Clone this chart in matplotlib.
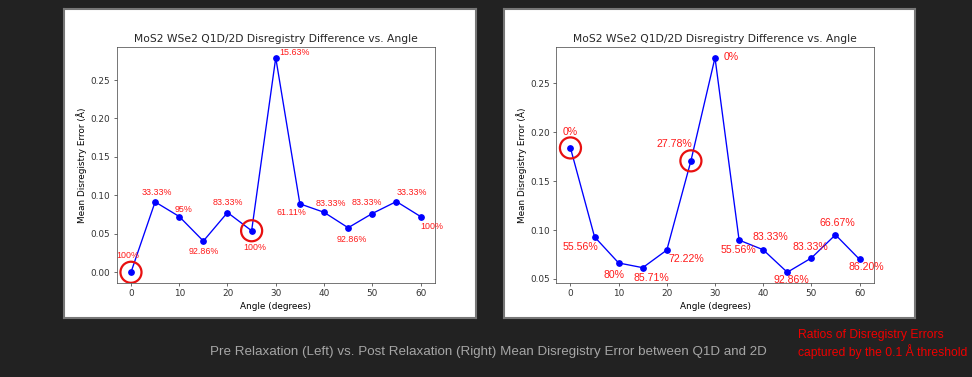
import numpy as np
import matplotlib.pyplot as plt

# angles and mean disregistry error
angles = [0, 5, 10, 15, 20, 25, 30, 35, 40, 45, 50, 55, 60]
pre_err = [0.000, 0.0915, 0.0725, 0.0406, 0.0777, 0.054, 0.279,
           0.089, 0.078, 0.0579, 0.0764, 0.092, 0.0725]
post_err = [0.1839, 0.093, 0.0663, 0.0615, 0.0795, 0.1707, 0.2761,
            0.0897, 0.0798, 0.0568, 0.0714, 0.0951, 0.070]

pre_labels = ["100%", "33.33%", "95%", "92.86%", "83.33%", "100%", "15.63%",
              "61.11%", "83.33%", "92.86%", "83.33%", "33.33%", "100%"]
post_labels = ["0%", "55.56%", "80%", "85.71%", "72.22%", "27.78%", "0%",
               "55.56%", "83.33%", "92.86%", "83.33%", "66.67%", "86.20%"]

circled = [0, 25]

# label offsets in pixels (dx, dy), dy positive = up
pre_offsets = [(-3, 17), (2, 9), (4, 7), (0, -10), (0, 10), (3, -17), (19, 5),
               (-8, -9), (7, 9), (4, -12), (-5, 11), (15, 9), (11, -10)]
post_offsets = [(0, 16), (-14, -10), (-5, -12), (9, -10), (20, -9), (-17, 17),
                (16, 1), (-1, -10), (7, 13), (4, -8), (-1, 11), (2, 12), (7, -8)]

W, H = 972, 377
BG = "#222222"
S = 0.643  # the panels are default figures shrunk onto the slide

fig = plt.figure(figsize=(W / 100, H / 100), dpi=100, facecolor=BG)


def px_rect(x0, y0, x1, y1):
    return [x0 / W, 1 - y1 / H, (x1 - x0) / W, (y1 - y0) / H]


def panel(x0, y0, x1, y1):
    pa = fig.add_axes(px_rect(x0, y0, x1, y1))
    pa.set_facecolor("white")
    pa.set_xticks([])
    pa.set_yticks([])
    for sp in pa.spines.values():
        sp.set_color("#777777")
        sp.set_linewidth(1.5)
    pa.set_zorder(0)


def draw(rect, err, labels, offsets, lab_size):
    ax = fig.add_axes(px_rect(*rect))
    ax.set_zorder(1)
    ax.plot(angles, err, color="blue", marker="o", markersize=6 * S,
            linewidth=1.5 * S)
    cx = [a for a in angles if a in circled]
    cy = [e for a, e in zip(angles, err) if a in circled]
    ax.scatter(cx, cy, s=230, facecolors="none", edgecolors="#e81010",
               linewidths=1.6, zorder=5)
    for a, e, t, (dx, dy) in zip(angles, err, labels, offsets):
        ax.annotate(t, (a, e), xytext=(dx, dy), textcoords="offset pixels",
                    ha="center", va="center", color="#ff1a1a",
                    fontsize=lab_size, family="Liberation Sans")
    ax.set_title("MoS2 WSe2 Q1D/2D Disregistry Difference vs. Angle",
                 fontsize=12 * S, color="#262626", pad=6 * S)
    ax.set_xlabel("Angle (degrees)", fontsize=10 * S, labelpad=4 * S)
    ax.set_ylabel("Mean Disregistry Error (Å)", fontsize=10 * S, labelpad=4 * S)
    ax.set_xticks([0, 10, 20, 30, 40, 50, 60])
    ax.tick_params(labelsize=10 * S, length=3.5 * S, width=0.8 * S,
                   pad=3.5 * S, colors="#333333")
    for sp in ax.spines.values():
        sp.set_linewidth(0.8 * S)
        sp.set_color("#444444")
    return ax


panel(64, 9, 476, 318)
panel(504, 9, 915, 318)

draw((116.5, 47, 435, 283), pre_err, pre_labels, pre_offsets, 6.4)
draw((556, 47, 874, 283), post_err, post_labels, post_offsets, 7.6)

fig.text(488 / W, 1 - 352 / H,
         "Pre Relaxation (Left) vs. Post Relaxation (Right) Mean Disregistry Error between Q1D and 2D",
         ha="center", va="center", color="#a6a6a6", fontsize=9.65,
         family="Liberation Sans")
fig.text(798 / W, 1 - 335 / H, "Ratios of Disregistry Errors",
         ha="left", va="center", color="#ee0000", fontsize=8.7,
         family="Liberation Sans")
fig.text(798 / W, 1 - 352 / H, "captured by the 0.1 Å threshold",
         ha="left", va="center", color="#ee0000", fontsize=8.7,
         family="Liberation Sans")

fig.savefig("out.png", dpi=100, facecolor=BG)
